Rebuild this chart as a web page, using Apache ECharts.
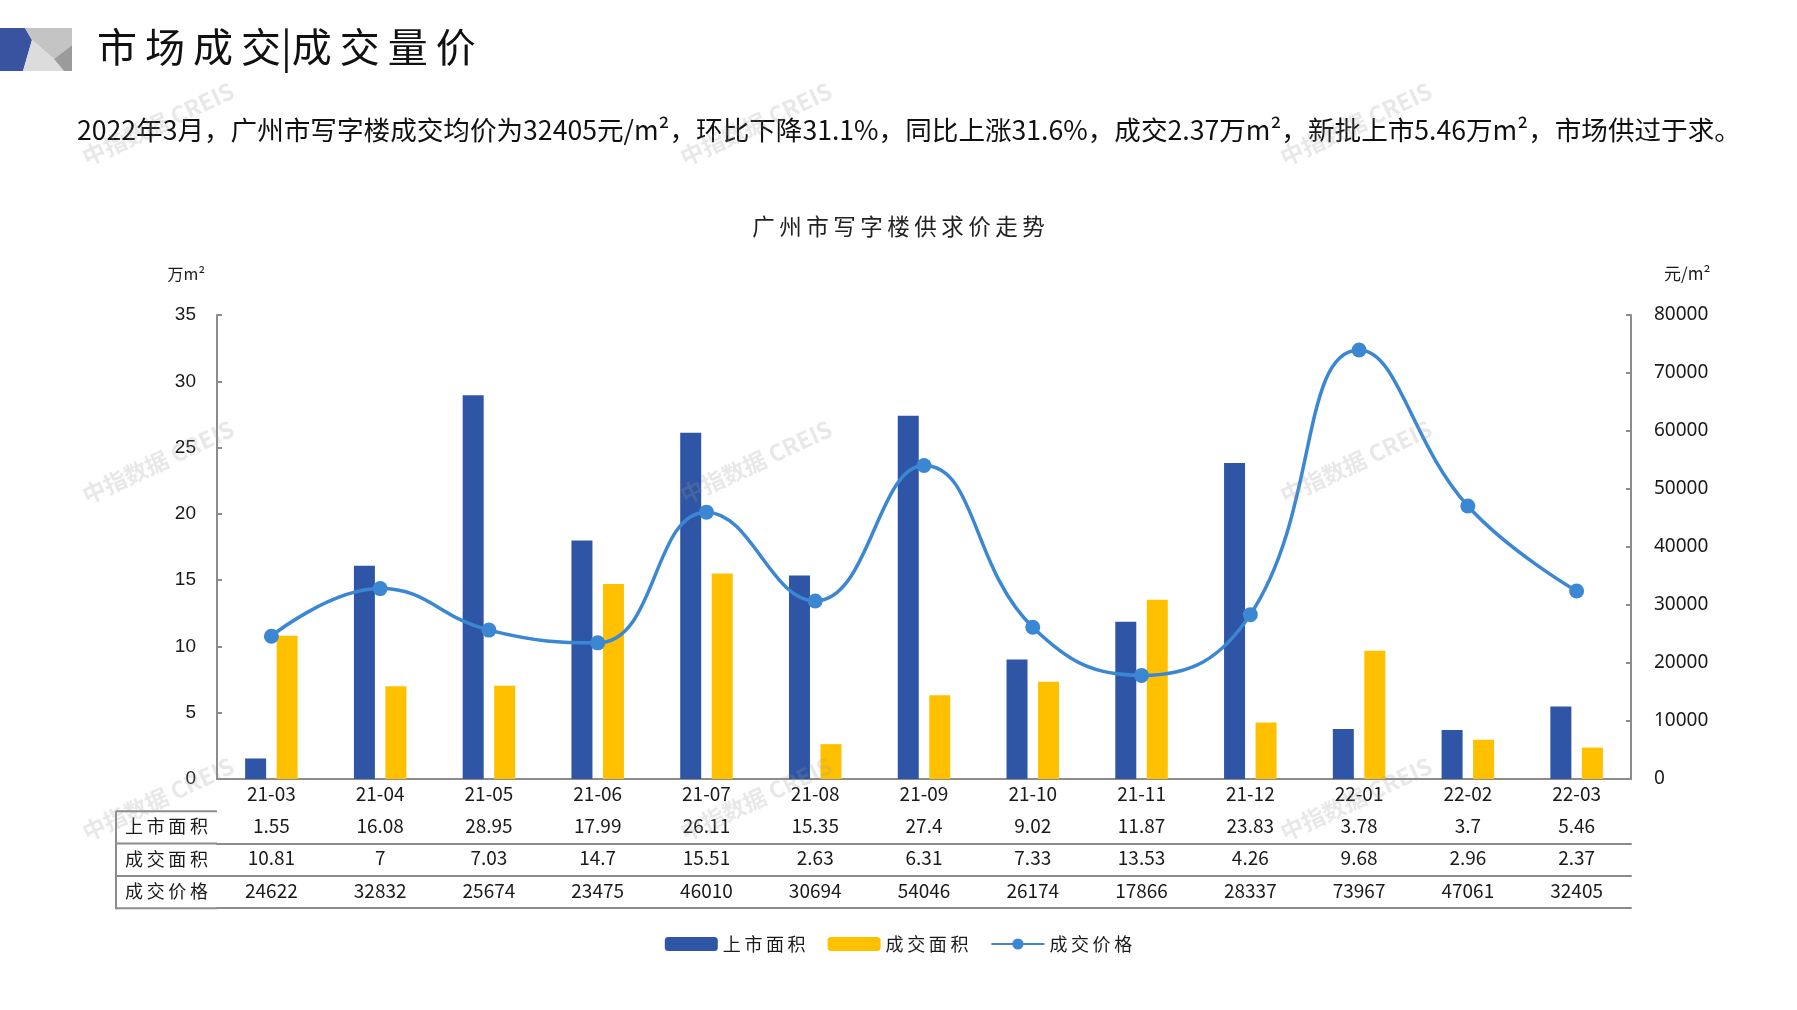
<!DOCTYPE html>
<html><head><meta charset="utf-8">
<script src="https://cdn.jsdelivr.net/npm/echarts@6/dist/echarts.min.js"></script>
<style>html,body{margin:0;padding:0;background:#fff}#c{width:1797px;height:1010px}</style>
</head><body><div id="c"></div>
<script>
// ---- data ----
const months = ['21-03','21-04','21-05','21-06','21-07','21-08','21-09','21-10','21-11','21-12','22-01','22-02','22-03'];
const supply = [1.55,16.08,28.95,17.99,26.11,15.35,27.4,9.02,11.87,23.83,3.78,3.7,5.46];
const deal = [10.81,7,7.03,14.7,15.51,2.63,6.31,7.33,13.53,4.26,9.68,2.96,2.37];
const price = [24622,32832,25674,23475,46010,30694,54046,26174,17866,28337,73967,47061,32405];
const seriesNames = ['上市面积','成交面积','成交价格'];
const leftTicks = [0,5,10,15,20,25,30,35];
const rightTicks = [0,10000,20000,30000,40000,50000,60000,70000,80000];

const FONT = '"Noto Sans CJK SC","Noto Sans",sans-serif';
const NUMF = '"Liberation Sans",Arial,sans-serif';
const sp = s => s.split('').join('\u2009');
const LINE = '#8c8c8c';
const TXT = '#1a1a1a';

const gridLeft = 217, gridRight = 1631, gridTop = 315, gridBottom = 779;
const rowH = 32.3;

const chart = echarts.init(document.getElementById('c'), null, {renderer:'canvas'});

const rowData = [supply, deal, price];
const xAxes = [{
  type:'category', data: months, position:'bottom',
  axisLine:{lineStyle:{color:LINE, width:2}},
  axisTick:{length:rowH*4, lineStyle:{color:LINE, width:2}},
  axisLabel:{interval:0, margin:5, fontSize:19, color:TXT, fontFamily:FONT}
}];
rowData.forEach((arr,i)=>{
  xAxes.push({
    type:'category', data: months, position:'bottom', offset: rowH*(i+1),
    axisLine:{lineStyle:{color:LINE, width:2}},
    axisTick:{show:false},
    axisLabel:{interval:0, margin:5, fontSize:19, color:TXT, fontFamily:FONT,
      formatter:(v,idx)=>String(arr[idx])}
  });
});
xAxes.push({
  type:'category', data: months, position:'bottom', offset: rowH*4,
  axisLine:{lineStyle:{color:LINE, width:2}}, axisTick:{show:false}, axisLabel:{show:false}
});

// watermarks
const wm = [];
[[158,124],[756,124],[1356,124],[158,462],[756,462],[1356,462],[158,799],[756,799],[1356,799]].forEach(p=>{
  wm.push({type:'text', x:p[0], y:p[1], rotation:Math.PI*25/180, z:100,
    style:{text:'中指数据 CREIS', fill:'rgba(150,150,150,0.22)', font:'bold 23px '+FONT, align:'center', verticalAlign:'middle'}});
});

const rowLabelX = (116+gridLeft)/2;
const tableGraphics = [];
for (let k=1;k<=4;k++){
  const y = gridBottom + rowH*k;
  tableGraphics.push({type:'line', shape:{x1:116,y1:y,x2:gridLeft,y2:y}, style:{stroke:LINE, lineWidth:2}});
}
tableGraphics.push({type:'line', shape:{x1:116,y1:gridBottom+rowH,x2:116,y2:gridBottom+rowH*4+1}, style:{stroke:LINE, lineWidth:2}});
seriesNames.forEach((n,i)=>{
  tableGraphics.push({type:'text', x:rowLabelX, y:gridBottom+rowH*(i+1.5)-1,
    style:{text:sp(n), fill:TXT, font:'18px '+FONT, align:'center', verticalAlign:'middle'}});
});

const logo = [
  {type:'polygon', shape:{points:[[0,28],[25,28],[32,40],[23,71],[0,71]]}, style:{fill:'#3a53a0'}},
  {type:'polygon', shape:{points:[[25,28],[72,28],[72,45],[54,59],[32,40]]}, style:{fill:'#c4c4c4'}},
  {type:'polygon', shape:{points:[[32,40],[54,59],[64,71],[23,71]]}, style:{fill:'#dcdcdc'}},
  {type:'polygon', shape:{points:[[72,45],[54,59],[64,71],[72,71]]}, style:{fill:'#9b9b9b'}}
];

chart.setOption({
  backgroundColor:'#fff',
  animation:false,
  title:[
    {text:sp('市场成交')+'|'+sp('成交量价'), left:92, top:22, textStyle:{fontSize:40, fontWeight:'normal', color:'#111', fontFamily:FONT}},
    {text:'2022年3月，广州市写字楼成交均价为32405元/m²，环比下降31.1%，同比上涨31.6%，成交2.37万m²，新批上市5.46万m²，市场供过于求。',
      left:72, top:112, textStyle:{fontSize:26.6, fontWeight:'normal', color:'#111', fontFamily:FONT}},
    {text:sp('广州市写字楼供求价走势'), left:'center', top:210, textStyle:{fontSize:22.5, fontWeight:'normal', color:'#222', fontFamily:FONT}}
  ],
  grid:{left:gridLeft, right:1797-gridRight, top:gridTop, bottom:1010-gridBottom, containLabel:false},
  legend:{
    data:seriesNames, top:930, left:'center', itemWidth:53, itemHeight:14, itemGap:22,
    formatter:n=>sp(n),
    textStyle:{fontSize:18, color:TXT, fontFamily:FONT}
  },
  xAxis: xAxes,
  yAxis:[
    {type:'value', min:0, max:35, interval:5, name:'万m²', nameLocation:'end', nameGap:33,
      nameTextStyle:{fontSize:16, color:TXT, fontFamily:FONT, align:'right', padding:[0,12,0,0]},
      axisLine:{show:true, lineStyle:{color:LINE, width:2}},
      axisTick:{show:true, inside:true, length:5, lineStyle:{color:LINE, width:2}},
      splitLine:{show:false},
      axisLabel:{margin:21, fontSize:19, color:TXT, fontFamily:NUMF}},
    {type:'value', min:0, max:80000, interval:10000, name:'元/m²', nameLocation:'end', nameGap:33,
      nameTextStyle:{fontSize:17, color:TXT, fontFamily:FONT, align:'left', padding:[0,0,0,33]},
      axisLine:{show:true, lineStyle:{color:LINE, width:2}},
      axisTick:{show:true, inside:true, length:5, lineStyle:{color:LINE, width:2}},
      splitLine:{show:false},
      axisLabel:{margin:23, fontSize:19, color:TXT, fontFamily:'"Noto Sans",sans-serif', formatter:v=>String(v)}}
  ],
  series:[
    {name:seriesNames[0], type:'bar', xAxisIndex:0, yAxisIndex:0, data:supply, barWidth:21, barGap:'50%', itemStyle:{color:'#2f56a6'}},
    {name:seriesNames[1], type:'bar', xAxisIndex:0, yAxisIndex:0, data:deal, barWidth:21, itemStyle:{color:'#ffc000'}},
    {name:seriesNames[2], type:'line', xAxisIndex:0, yAxisIndex:1, data:price, smooth:0.45, symbol:'circle', symbolSize:15,
      lineStyle:{width:3.5, color:'#3b87d3'}, itemStyle:{color:'#3b87d3'}, z:5}
  ],
  graphic: logo.concat(tableGraphics, wm)
});
</script>
</body></html>
